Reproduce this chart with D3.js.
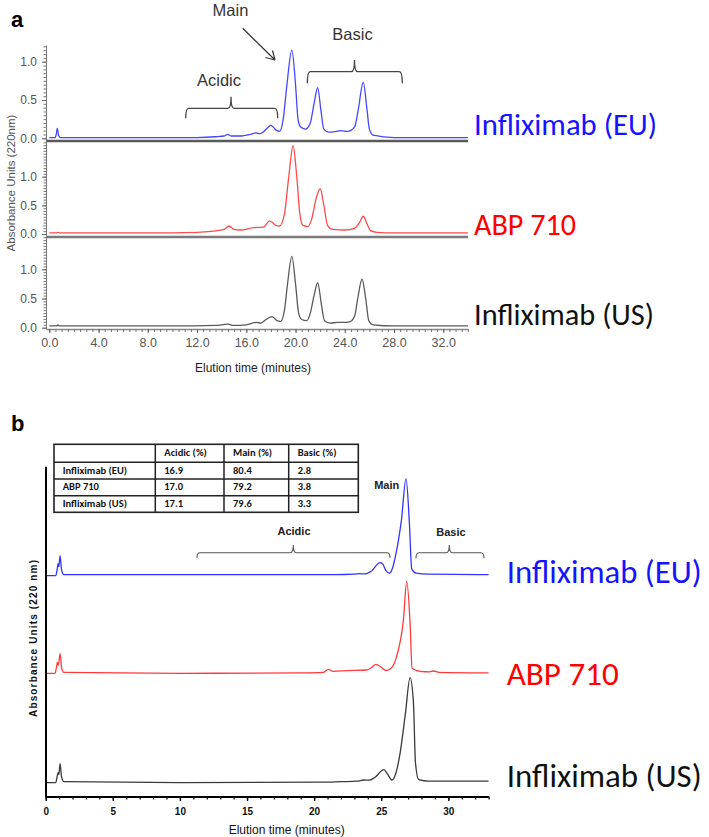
<!DOCTYPE html>
<html><head><meta charset="utf-8">
<script src="https://cdn.jsdelivr.net/npm/d3@7"></script>
<style>body{margin:0;background:#fff} svg{display:block}</style>
</head><body><svg id="c" width="709" height="837"></svg>
<script>
// ---------------- DATA ----------------
const seriesNames = ["Infliximab (EU)", "ABP 710", "Infliximab (US)"];

// Panel a: [elution time (min), absorbance (AU)]
const euA = [[0,0.01],[0.45,0.01],[0.55,0.04],[0.65,0.13],[0.75,0.04],[0.9,0.01],[6,0.01],[12,0.01],[13.5,0.02],[14.2,0.03],[14.5,0.05],[14.8,0.03],[15.6,0.03],[16.3,0.05],[16.8,0.07],[17.1,0.06],[17.5,0.1],[18.0,0.17],[18.4,0.11],[18.7,0.09],[19.0,0.25],[19.3,0.7],[19.7,1.15],[20.0,0.7],[20.2,0.25],[20.4,0.15],[20.8,0.12],[21.2,0.2],[21.5,0.45],[21.8,0.66],[22.05,0.38],[22.3,0.12],[22.7,0.08],[23.3,0.09],[23.7,0.1],[24.2,0.09],[24.8,0.15],[25.1,0.38],[25.5,0.73],[25.8,0.38],[26.0,0.12],[26.3,0.04],[28,0.01],[34,0.01]];
const abpA = [[0,0.02],[0.6,0.02],[0.7,0.03],[0.8,0.02],[8,0.02],[12,0.03],[13.3,0.05],[14.2,0.08],[14.6,0.14],[15.0,0.08],[15.5,0.07],[16.6,0.11],[17.4,0.12],[17.9,0.23],[18.4,0.15],[18.7,0.14],[19.1,0.35],[19.45,1.0],[19.8,1.54],[20.1,1.0],[20.35,0.35],[20.6,0.15],[21.0,0.13],[21.3,0.25],[21.65,0.6],[22.0,0.79],[22.3,0.5],[22.6,0.15],[23.0,0.08],[24.0,0.07],[24.8,0.1],[25.2,0.2],[25.5,0.31],[25.8,0.18],[26.1,0.06],[26.6,0.03],[28,0.02],[34,0.02]];
const usA = [[0,0.03],[0.6,0.03],[0.7,0.05],[0.8,0.03],[10,0.03],[13.5,0.04],[14.5,0.06],[15,0.04],[16,0.05],[16.8,0.09],[17.2,0.08],[17.6,0.14],[18.1,0.19],[18.5,0.12],[18.8,0.11],[19.1,0.3],[19.35,0.75],[19.7,1.22],[20.0,0.75],[20.25,0.25],[20.5,0.14],[20.9,0.12],[21.2,0.25],[21.5,0.55],[21.8,0.77],[22.1,0.4],[22.35,0.12],[22.8,0.08],[23.4,0.09],[23.9,0.09],[24.4,0.1],[24.8,0.2],[25.05,0.5],[25.4,0.83],[25.7,0.5],[25.95,0.12],[26.3,0.05],[28,0.03],[34,0.03]];

// Panel b: [elution time (min), relative absorbance]
const euB = [[0,0],[0.75,0],[0.85,0.06],[0.92,0.12],[0.98,0.09],[1.07,0.2],[1.18,0.06],[1.35,0.01],[5,0.01],[20,0.01],[21.5,0.01],[23.0,0.015],[23.4,0.02],[23.8,0.018],[24.3,0.05],[24.9,0.13],[25.1,0.12],[25.35,0.05],[25.6,0.025],[25.85,0.08],[26.1,0.22],[26.5,0.55],[26.85,0.97],[27.1,0.52],[27.27,0.07],[27.6,0.025],[28.5,0.015],[33,0.01]];
const abpB = [[0,0],[0.7,0],[0.8,0.06],[0.87,0.11],[0.95,0.08],[1.07,0.2],[1.18,0.06],[1.35,0.01],[10,0],[19,0.005],[20.7,0.01],[21.05,0.04],[21.4,0.02],[22.5,0.027],[23.9,0.033],[24.3,0.06],[24.6,0.09],[24.9,0.07],[25.4,0.027],[25.8,0.06],[26.15,0.17],[26.65,0.53],[26.9,0.92],[27.15,0.5],[27.3,0.05],[27.9,0.02],[28.6,0.015],[28.9,0.023],[29.3,0.01],[33,0.005]];
const usB = [[0,0],[0.75,0],[0.85,0.06],[0.92,0.1],[0.98,0.08],[1.07,0.19],[1.18,0.06],[1.35,0.01],[10,0],[20.7,0.005],[22,0.01],[23.2,0.015],[23.7,0.027],[24.1,0.025],[24.5,0.05],[25.2,0.13],[25.45,0.09],[25.8,0.027],[26.1,0.1],[26.4,0.29],[26.8,0.69],[27.15,1.05],[27.4,0.8],[27.55,0.2],[27.8,0.03],[28.5,0.015],[33,0.015]];

// Table
const tableHeader = ["", "Acidic (%)", "Main (%)", "Basic (%)"];
const tableProducts = ["Infliximab (EU)", "ABP 710", "Infliximab (US)"];
const acidicPct = ["16.9", "17.0", "17.1"];
const mainPct = ["80.4", "79.2", "79.6"];
const basicPct = ["2.8", "3.8", "3.3"];

// Tick labels
const xTicksA = [0, 4, 8, 12, 16, 20, 24, 28, 32];
const yTicksA = [0, 0.5, 1.0];
const xTicksB = [0, 5, 10, 15, 20, 25, 30];

// ---------------- DRAW ----------------
const svg = d3.select("#c");
const LATO = "Carlito, Calibri, Lato, sans-serif";
const ARIAL = "Arial, 'Liberation Sans', Helvetica, sans-serif";

// ===== Panel a =====
svg.append("text").attr("x", 11).attr("y", 27).text("a")
  .attr("font-family", ARIAL).attr("font-weight", "bold").attr("font-size", 22);

const xA = d3.scaleLinear().domain([-0.27, 34]).range([46, 467.9]);
const traceColA = ["#4646ff", "#ff4a4a", "#5a5a5a"];
const labelCol = ["#1414ff", "#ff0000", "#111111"];
const subA = [
  {top: 45, bottom: 141, zero: 138.3, k: 76.6, data: euA},
  {top: 141, bottom: 237, zero: 234, k: 57.3, data: abpA},
  {top: 237, bottom: 329, zero: 327.7, k: 58.4, data: usA}
];
const labelA = [{y: 135, w: 183}, {y: 235, w: 102}, {y: 325, w: 180}];

subA.forEach((p, i) => {
  const y = d3.scaleLinear()
    .domain([(p.zero - p.bottom) / p.k, (p.zero - p.top) / p.k])
    .range([p.bottom, p.top]);
  const gm = svg.append("g").attr("transform", "translate(46,0)")
    .call(d3.axisLeft(y).tickValues(d3.range(0, y.domain()[1], 0.05)).tickSize(2.5).tickSizeOuter(0).tickFormat(""));
  gm.selectAll("path,line").attr("stroke", "#777").attr("stroke-width", 1);
  const gM = svg.append("g").attr("transform", "translate(46,0)")
    .call(d3.axisLeft(y).tickValues(yTicksA).tickSize(4).tickSizeOuter(0).tickPadding(5).tickFormat(d3.format(".1f")));
  gM.select("path").remove();
  gM.selectAll("line").attr("stroke", "#666");
  gM.selectAll("text").attr("font-family", ARIAL).attr("font-size", 12).attr("fill", "#555");
  const line = d3.line().x(d => xA(d[0])).y(d => y(d[1])).curve(d3.curveMonotoneX);
  svg.append("path").datum(p.data).attr("d", line)
    .attr("fill", "none").attr("stroke", traceColA[i]).attr("stroke-width", 1.3);
  if (i < 2) {
    svg.append("line").attr("x1", 46).attr("x2", 468).attr("y1", p.bottom).attr("y2", p.bottom)
      .attr("stroke", i === 0 ? "#5a5a5a" : "#7a7a7a").attr("stroke-width", 2.5);
  }
  svg.append("text").attr("x", 474).attr("y", labelA[i].y).text(seriesNames[i])
    .attr("font-family", LATO).attr("font-size", 30).attr("fill", labelCol[i])
    .attr("textLength", labelA[i].w).attr("lengthAdjust", "spacingAndGlyphs");
});

// x axis a
{
  const gm = svg.append("g").attr("transform", "translate(0,329)")
    .call(d3.axisBottom(xA).tickValues(d3.range(0, 34.01, 0.5)).tickSize(3).tickSizeOuter(0).tickFormat(""));
  gm.selectAll("path").attr("stroke", "#888").attr("stroke-width", 1.5);
  gm.selectAll("line").attr("stroke", "#777");
  const gM = svg.append("g").attr("transform", "translate(0,329)")
    .call(d3.axisBottom(xA).tickValues(xTicksA).tickSize(4).tickSizeOuter(0).tickPadding(5).tickFormat(d3.format(".1f")));
  gM.select("path").remove();
  gM.selectAll("line").attr("stroke", "#666");
  gM.selectAll("text").attr("font-family", ARIAL).attr("font-size", 12.5).attr("fill", "#555");
  svg.append("text").attr("x", 253).attr("y", 372).attr("text-anchor", "middle")
    .text("Elution time (minutes)").attr("font-family", ARIAL).attr("font-size", 12).attr("fill", "#222");
  svg.append("text").attr("transform", "translate(15,183) rotate(-90)").attr("text-anchor", "middle")
    .text("Absorbance Units (220nm)").attr("font-family", ARIAL).attr("font-size", 11.5).attr("fill", "#555");
}

function bracket(x1, x2, yb, yEnd, yTip, xc) {
  const r = 3;
  return `M${x1},${yEnd} Q${x1},${yb} ${x1 + r},${yb} L${xc - r},${yb} Q${xc},${yb} ${xc},${yTip} Q${xc},${yb} ${xc + r},${yb} L${x2 - r},${yb} Q${x2},${yb} ${x2},${yEnd}`;
}
const annA = svg.append("g").attr("font-family", ARIAL).attr("font-size", 16.5).attr("fill", "#333").attr("text-anchor", "middle");
annA.append("text").attr("x", 230.5).attr("y", 16).text("Main");
annA.append("text").attr("x", 352.5).attr("y", 40).text("Basic");
annA.append("text").attr("x", 219).attr("y", 86).text("Acidic");
svg.append("path").attr("d", bracket(307.3, 402.3, 71.7, 83.3, 60, 354.5))
  .attr("fill", "none").attr("stroke", "#444").attr("stroke-width", 1.3);
svg.append("path").attr("d", bracket(185.7, 277.7, 108.3, 118.3, 96.7, 231))
  .attr("fill", "none").attr("stroke", "#444").attr("stroke-width", 1.3);
svg.append("path").attr("d", "M242.7,28.3 L275,60 M275,60 L272.5,50.5 M275,60 L265.5,57.5")
  .attr("fill", "none").attr("stroke", "#333").attr("stroke-width", 1.2);

// ===== Panel b =====
svg.append("text").attr("x", 11).attr("y", 431).text("b")
  .attr("font-family", ARIAL).attr("font-weight", "bold").attr("font-size", 22);

const xB = d3.scaleLinear().domain([0, 33]).range([45.7, 488.6]);
const traceColB = ["#3434ff", "#ff3a3a", "#3a3a3a"];
const baseB = [575.7, 673.3, 782.7];
const dataB = [euB, abpB, usB];
const labelB = [{y: 582.7, w: 195}, {y: 685, w: 112}, {y: 786.7, w: 195}];

dataB.forEach((d, i) => {
  const y = d3.scaleLinear().domain([0, 1]).range([baseB[i], baseB[i] - 100]);
  const line = d3.line().x(p => xB(p[0])).y(p => y(p[1])).curve(d3.curveMonotoneX);
  svg.append("path").datum(d).attr("d", line)
    .attr("fill", "none").attr("stroke", traceColB[i]).attr("stroke-width", 1.3);
  svg.append("text").attr("x", 506.7).attr("y", labelB[i].y).text(seriesNames[i])
    .attr("font-family", LATO).attr("font-size", 32).attr("fill", labelCol[i])
    .attr("textLength", labelB[i].w).attr("lengthAdjust", "spacingAndGlyphs");
});

svg.append("line").attr("x1", 46).attr("x2", 46).attr("y1", 466.7).attr("y2", 797.5)
  .attr("stroke", "#000").attr("stroke-width", 2);
{
  const gm = svg.append("g").attr("transform", "translate(0,796.5)")
    .call(d3.axisBottom(xB).tickValues(d3.range(0, 33.01, 1)).tickSize(3).tickSizeOuter(0).tickFormat(""));
  gm.selectAll("path").attr("stroke", "#000").attr("stroke-width", 2);
  gm.selectAll("line").attr("stroke", "#000").attr("stroke-width", 1.2);
  const gM = svg.append("g").attr("transform", "translate(0,796.5)")
    .call(d3.axisBottom(xB).tickValues(xTicksB).tickSize(4.5).tickSizeOuter(0).tickPadding(7).tickFormat(d3.format("d")));
  gM.select("path").remove();
  gM.selectAll("line").attr("stroke", "#000").attr("stroke-width", 1.4);
  gM.selectAll("text").attr("font-family", ARIAL).attr("font-size", 10).attr("font-weight", "bold").attr("fill", "#111");
  svg.append("text").attr("x", 286.7).attr("y", 834).attr("text-anchor", "middle")
    .text("Elution time (minutes)").attr("font-family", ARIAL).attr("font-size", 12).attr("fill", "#111");
  svg.append("text").attr("transform", "translate(37,638.5) rotate(-90)").attr("text-anchor", "middle")
    .text("Absorbance Units (220 nm)").attr("font-family", ARIAL).attr("font-size", 10).attr("font-weight", "bold")
    .attr("fill", "#111").attr("textLength", 157).attr("lengthAdjust", "spacing");
}

const annB = svg.append("g").attr("font-family", ARIAL).attr("font-size", 11).attr("font-weight", "bold").attr("fill", "#222").attr("text-anchor", "middle");
annB.append("text").attr("x", 386.7).attr("y", 489).text("Main");
annB.append("text").attr("x", 451).attr("y", 536).text("Basic");
annB.append("text").attr("x", 294).attr("y", 535).text("Acidic");
svg.append("path").attr("d", bracket(197, 390, 552.7, 557.7, 545, 293.3))
  .attr("fill", "none").attr("stroke", "#555").attr("stroke-width", 1.1);
svg.append("path").attr("d", bracket(416, 484, 552.7, 558.3, 545, 449.3))
  .attr("fill", "none").attr("stroke", "#555").attr("stroke-width", 1.1);

{
  const colX = [54, 155.3, 224, 288.7, 358.3];
  const rowY = [444.3, 462.3, 479, 495.7, 512.3];
  const rows = [tableHeader].concat(tableProducts.map((p, i) => [p, acidicPct[i], mainPct[i], basicPct[i]]));
  const gt = svg.append("g");
  gt.append("rect").attr("x", colX[0]).attr("y", rowY[0])
    .attr("width", colX[4] - colX[0]).attr("height", rowY[4] - rowY[0])
    .attr("fill", "#fff").attr("stroke", "#222").attr("stroke-width", 1.6);
  rowY.slice(1, 4).forEach(y => gt.append("line").attr("x1", colX[0]).attr("x2", colX[4]).attr("y1", y).attr("y2", y).attr("stroke", "#222").attr("stroke-width", 1.5));
  colX.slice(1, 4).forEach(x => gt.append("line").attr("x1", x).attr("x2", x).attr("y1", rowY[0]).attr("y2", rowY[4]).attr("stroke", "#222").attr("stroke-width", 1.5));
  rows.forEach((r, ri) => {
    const ym = (rowY[ri] + rowY[ri + 1]) / 2;
    r.forEach((c, ci) => {
      if (!c) return;
      gt.append("text").attr("x", colX[ci] + (ci === 0 ? 8.7 : 9)).attr("y", ym + 3)
        .text(c).attr("font-family", LATO).attr("font-size", 10.5).attr("font-weight", "bold").attr("fill", "#111");
    });
  });
}
</script></body></html>
